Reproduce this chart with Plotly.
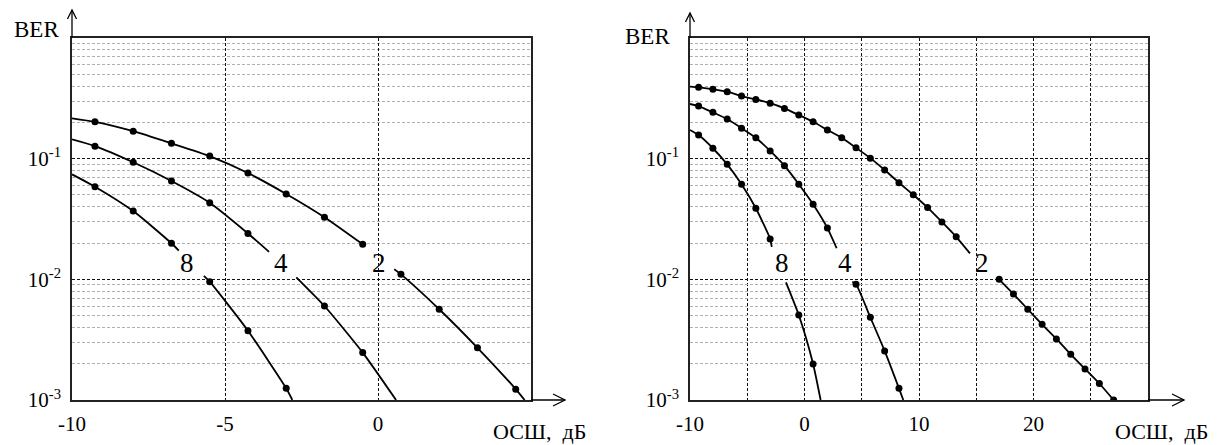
import math
import plotly.graph_objects as go

# page body has an 8px margin: the figure is placed at (8, 8) in a 1227x445 window
OFF = 8
W, H = 1227 - OFF, 445 - OFF

# ---------------- data: left panel (SNR -10..5 dB) ----------------
snr_left_m2 = [-9.25, -8, -6.75, -5.5, -4.25, -3, -1.75, -0.5, 0.75, 2, 3.25, 4.5]
ber_left_m2 = [0.202, 0.169, 0.134, 0.105, 0.076, 0.051, 0.0327, 0.0195, 0.0110, 0.00565, 0.00271, 0.00123]
snr_left_l2 = [-10, -9.25, -8, -6.75, -5.5, -4.25, -3, -1.75, -0.5, None, 0.53, 0.75, 2, 3.25, 4.5, 4.79]
ber_left_l2 = [0.216, 0.202, 0.169, 0.134, 0.105, 0.076, 0.051, 0.0327, 0.0195, None, 0.0121, 0.0110, 0.00565, 0.00271, 0.00123, 0.001]

snr_left_m4 = [-9.25, -8, -6.75, -5.5, -4.25, -1.75, -0.5]
ber_left_m4 = [0.127, 0.0933, 0.0653, 0.0431, 0.0240, 0.00601, 0.00247]
snr_left_l4 = [-10, -9.25, -8, -6.75, -5.5, -4.25, -3.56, None, -2.67, -1.75, -0.5, 0.59]
ber_left_l4 = [0.1445, 0.127, 0.0933, 0.0653, 0.0431, 0.0240, 0.0169, None, 0.0104, 0.00601, 0.00247, 0.001]

snr_left_m8 = [-9.25, -8, -6.75, -5.5, -4.25, -3]
ber_left_m8 = [0.0586, 0.0368, 0.0199, 0.00957, 0.00375, 0.00125]
snr_left_l8 = [-10, -9.25, -8, -6.75, -6.51, None, -5.69, -5.5, -4.25, -3, -2.8]
ber_left_l8 = [0.0741, 0.0586, 0.0368, 0.0199, 0.0173, None, 0.0107, 0.00957, 0.00375, 0.00125, 0.001]

# ---------------- data: right panel (SNR -10..30 dB) ----------------
snr_right_m2 = [-9.25, -8, -6.75, -5.5, -4.25, -3, -1.75, -0.5, 0.75, 2, 3.25, 4.5, 5.75, 7, 8.25,
                9.5, 10.75, 12, 13.25, 17, 18.25, 19.5, 20.75, 22, 23.25, 24.5, 25.75, 27]
ber_right_m2 = [0.390, 0.376, 0.359, 0.330, 0.310, 0.288, 0.261, 0.230, 0.202, 0.173, 0.149, 0.123, 0.101,
                0.0805, 0.0632, 0.0502, 0.0393, 0.0299, 0.0225, 0.0100, 0.00755, 0.00565, 0.00424,
                0.00321, 0.00239, 0.00181, 0.00137, 0.00100]
snr_right_l2 = [-10, -9.25, -8, -6.75, -5.5, -4.25, -3, -1.75, -0.5, 0.75, 2, 3.25, 4.5, 5.75, 7, 8.25,
                9.5, 10.75, 12, 13.25, 14.45, None, 17, 18.25, 19.5, 20.75, 22, 23.25, 24.5, 25.75, 27]
ber_right_l2 = [0.395, 0.390, 0.376, 0.359, 0.330, 0.310, 0.288, 0.261, 0.230, 0.202, 0.173, 0.149, 0.123,
                0.101, 0.0805, 0.0632, 0.0502, 0.0393, 0.0299, 0.0225, 0.0164, None, 0.0100, 0.00755,
                0.00565, 0.00424, 0.00321, 0.00239, 0.00181, 0.00137, 0.00100]

snr_right_m4 = [-9.25, -8, -6.75, -5.5, -4.25, -3, -1.75, -0.5, 0.75, 2, 4.5, 5.75, 7, 8.25]
ber_right_m4 = [0.273, 0.242, 0.213, 0.179, 0.149, 0.116, 0.0875, 0.0614, 0.0419, 0.0266,
                0.00910, 0.00484, 0.00255, 0.00125]
snr_right_l4 = [-10, -9.25, -8, -6.75, -5.5, -4.25, -3, -1.75, -0.5, 0.75, 2, 2.81, None,
                4.17, 4.5, 5.75, 7, 8.25, 8.63]
ber_right_l4 = [0.284, 0.273, 0.242, 0.213, 0.179, 0.149, 0.116, 0.0875, 0.0614, 0.0419, 0.0266, 0.0181, None,
                0.00954, 0.00910, 0.00484, 0.00255, 0.00125, 0.001]

snr_right_m8 = [-9.25, -8, -6.75, -5.5, -4.25, -3, -0.5, 0.75]
ber_right_m8 = [0.157, 0.122, 0.0897, 0.0614, 0.0388, 0.0216, 0.00506, 0.00199]
snr_right_l8 = [-10, -9.25, -8, -6.75, -5.5, -4.25, -3, -2.86, None, -1.62, -0.5, 0.75, 1.41]
ber_right_l8 = [0.173, 0.157, 0.122, 0.0897, 0.0614, 0.0388, 0.0216, 0.0186, None, 0.00944, 0.00506, 0.00199, 0.001]

# curve labels (modulation order) and their positions
curve_names = ["8", "4", "2"]
label_snr_left = [-6.24, -3.18, 0.03]
label_snr_right = [-1.99, 3.56, 15.53]
label_ber = 0.0137

# axis ticks
y_tickvals = [0.001, 0.01, 0.1]
y_ticktext = ["10<sup>-3</sup>", "10<sup>-2</sup>", "10<sup>-1</sup>"]
x_tickvals_left = [-10, -5, 0]
x_ticktext_left = ["-10", "-5", "0"]
x_tickvals_right = [-10, 0, 10, 20]
x_ticktext_right = ["-10", "0", "10", "20"]
x_gridvals_right_extra = [-5, 5, 15, 25]
y_label = "BER"
x_label = "ОСШ,  дБ"

# ---------------- figure ----------------
FONT = "Liberation Serif, Times New Roman, serif"
px = lambda x: (x - OFF) / W          # window pixel -> paper
py = lambda y: 1 - (y - OFF) / H

fig = go.Figure()

def add_curve(xa, ya, lx, ly, xref, yref):
    fig.add_trace(go.Scatter(x=lx, y=ly, mode="lines", xaxis=xref, yaxis=yref,
                             line=dict(color="black", width=1.8, shape="spline", smoothing=0.6),
                             connectgaps=False, hoverinfo="skip", showlegend=False))
    fig.add_trace(go.Scatter(x=xa, y=ya, mode="markers", xaxis=xref, yaxis=yref,
                             marker=dict(color="black", size=7), showlegend=False))

add_curve(snr_left_m2, ber_left_m2, snr_left_l2, ber_left_l2, "x", "y")
add_curve(snr_left_m4, ber_left_m4, snr_left_l4, ber_left_l4, "x", "y")
add_curve(snr_left_m8, ber_left_m8, snr_left_l8, ber_left_l8, "x", "y")
add_curve(snr_right_m2, ber_right_m2, snr_right_l2, ber_right_l2, "x2", "y2")
add_curve(snr_right_m4, ber_right_m4, snr_right_l4, ber_right_l4, "x2", "y2")
add_curve(snr_right_m8, ber_right_m8, snr_right_l8, ber_right_l8, "x2", "y2")

minor_vals = [m * 10 ** e for e in (-3, -2, -1) for m in range(2, 10)]
dark_minor = [3e-3, 4e-3, 5e-3, 9e-3, 2e-2, 6e-2, 8e-2, 2e-1, 4e-1, 6e-1, 7e-1]

GRID_DASH = "3px,2px"
axis_common = dict(showline=True, linecolor="#222", linewidth=1.5, mirror=True, ticks="",
                   zeroline=False, automargin=False,
                   tickfont=dict(family=FONT, size=21, color="black"))
yaxis_common = dict(axis_common, type="log", range=[-3, 0], tickvals=y_tickvals, ticktext=y_ticktext,
                    showgrid=True, gridcolor="#111", griddash=GRID_DASH, gridwidth=1,
                    ticklabelstandoff=5,
                    minor=dict(tickmode="array", tickvals=minor_vals, showgrid=True,
                               gridcolor="#b0b0b0", griddash=GRID_DASH, gridwidth=1, ticks=""),
                    domain=[py(400), py(38)])
xaxis_grid = dict(showgrid=True, gridcolor="#111", griddash=GRID_DASH, gridwidth=1, ticklabelstandoff=4)

fig.update_layout(
    template="none",
    width=W, height=H, margin=dict(l=0, r=0, t=0, b=0, autoexpand=False),
    paper_bgcolor="white", plot_bgcolor="white", showlegend=False,
    xaxis=dict(axis_common, **xaxis_grid, range=[-10, 5], tickvals=x_tickvals_left, ticktext=x_ticktext_left,
               domain=[px(72), px(531)], anchor="y"),
    yaxis=dict(yaxis_common, anchor="x"),
    xaxis2=dict(axis_common, **xaxis_grid, range=[-10, 30], tickvals=x_tickvals_right, ticktext=x_ticktext_right,
                minor=dict(tickmode="array", tickvals=x_gridvals_right_extra, showgrid=True,
                           gridcolor="#111", griddash=GRID_DASH, gridwidth=1, ticks=""),
                domain=[px(690), px(1148)], anchor="y2"),
    yaxis2=dict(yaxis_common, anchor="x2"),
)

shapes = []
for xr, yr in (("x", "y"), ("x2", "y2")):
    for v in dark_minor:
        shapes.append(dict(type="line", xref=f"{xr} domain", yref=yr, x0=0, x1=1,
                           y0=math.log10(v), y1=math.log10(v), layer="below",
                           line=dict(color="#111", width=1, dash=GRID_DASH)))

def arrow_shapes(x_left, x_right, y_top, y_bottom, y_tip, x_tip):
    out = []
    out.append(dict(type="path", xref="paper", yref="paper",
                    path=f"M{px(x_left)},{py(y_top)} L{px(x_left)},{py(y_tip)}",
                    line=dict(color="black", width=1.3)))
    out.append(dict(type="path", xref="paper", yref="paper",
                    path=f"M{px(x_left - 4.5)},{py(y_tip + 9)} L{px(x_left)},{py(y_tip)} L{px(x_left + 4.5)},{py(y_tip + 9)}",
                    line=dict(color="black", width=1.3)))
    out.append(dict(type="path", xref="paper", yref="paper",
                    path=f"M{px(x_right)},{py(y_bottom)} L{px(x_tip)},{py(y_bottom)}",
                    line=dict(color="black", width=1.3)))
    out.append(dict(type="path", xref="paper", yref="paper",
                    path=f"M{px(x_tip - 12)},{py(y_bottom - 6)} L{px(x_tip)},{py(y_bottom)} L{px(x_tip - 12)},{py(y_bottom + 6)}",
                    line=dict(color="black", width=1.3)))
    return out

shapes += arrow_shapes(72, 531, 38, 400, 10, 565)
shapes += arrow_shapes(690, 1148, 38, 400, 13, 1184)
fig.update_layout(shapes=shapes)

annotations = []
for name, xl, xr in zip(curve_names, label_snr_left, label_snr_right):
    for xx, xa, ya in ((xl, "x", "y"), (xr, "x2", "y2")):
        annotations.append(dict(x=xx, y=math.log10(label_ber), xref=xa, yref=ya, text=name,
                                showarrow=False, font=dict(family=FONT, size=27, color="black"),
                                xanchor="center", yanchor="middle"))
for cx, cy in ((36, 30), (647, 36)):
    annotations.append(dict(x=px(cx), y=py(cy), xref="paper", yref="paper", text=y_label, showarrow=False,
                            font=dict(family=FONT, size=23, color="black"), xanchor="center", yanchor="middle"))
for cx, cy in ((539, 431), (1161, 431)):
    annotations.append(dict(x=px(cx), y=py(cy), xref="paper", yref="paper", text=x_label, showarrow=False,
                            font=dict(family=FONT, size=22, color="black"), xanchor="center", yanchor="middle"))
fig.update_layout(annotations=annotations)

fig.write_html("out.html")
